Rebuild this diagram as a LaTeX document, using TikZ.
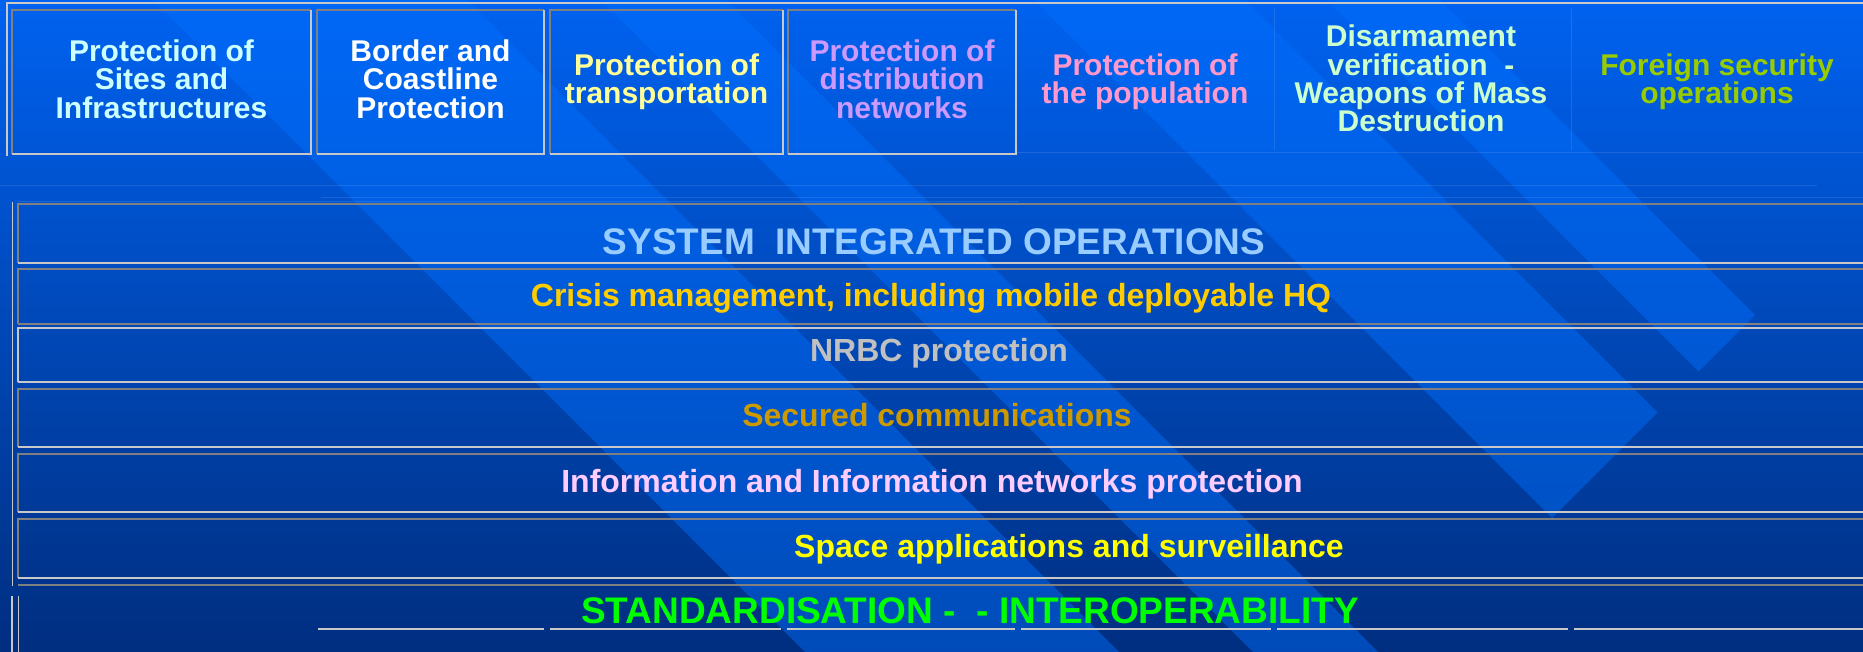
\documentclass[tikz,border=0pt]{standalone}
\usepackage{fontspec}
\setmainfont{Liberation Sans}

% background and frame colours
\definecolor{bgtop}{RGB}{0,98,240}
\definecolor{bgmid}{RGB}{0,78,200}
\definecolor{bgbot}{RGB}{0,46,128}
\definecolor{stripeblue}{RGB}{0,112,255}
\definecolor{edgedark}{RGB}{128,128,128}
\definecolor{edgelight}{RGB}{200,200,200}
% text colours
\definecolor{sitescol}{RGB}{204,255,255}
\definecolor{transcol}{RGB}{255,255,153}
\definecolor{distcol}{RGB}{204,153,255}
\definecolor{popcol}{RGB}{255,153,204}
\definecolor{wmdcol}{RGB}{204,255,204}
\definecolor{foreigncol}{RGB}{153,204,0}
\definecolor{syscol}{RGB}{153,204,255}
\definecolor{crisiscol}{RGB}{255,204,0}
\definecolor{nrbccol}{RGB}{192,192,192}
\definecolor{seccol}{RGB}{204,153,0}
\definecolor{infocol}{RGB}{255,204,255}
\definecolor{spacecol}{RGB}{255,255,0}
\definecolor{stdcol}{RGB}{0,255,0}

\tikzset{
    boxtext/.style={anchor=base, align=center, inner sep=0pt,
        font=\bfseries\fontsize{30}{28.3}\selectfont},
    bandtext/.style={anchor=base, inner sep=0pt,
        font=\bfseries\fontsize{32}{36}\selectfont},
    bigtext/.style={anchor=base, inner sep=0pt,
        font=\bfseries\fontsize{37}{42}\selectfont},
    faint/.style={white, opacity=0.1, line width=1pt}
}

% sunken frame: dark top and left, light bottom and right
\newcommand{\insetbox}[4]{
    \draw[edgedark, line width=2pt] (#1,#4) -- (#1,#2) -- (#3,#2);
    \draw[edgelight, line width=2pt] (#3,#2) -- (#3,#4) -- (#1,#4);
}

\begin{document}
\begin{tikzpicture}[x=1pt,y=-1pt]
            \useasboundingbox (0,0) rectangle (1863,652);
            \shade[top color=bgtop, middle color=bgmid, bottom color=bgbot] (0,0) rectangle (1863,652);
            \begin{scope}
                \clip (0,0) rectangle (1863,652);
                \foreach \a/\b in {153/467, 601/726, 1034/1245, 1327/1440} {
                    \fill[stripeblue, fill opacity=0.45] (\a-30,-30) -- (\b-30,-30)
                        -- ({(2070+\b)/2},{(2070-\b)/2}) -- ({(2070+\a)/2},{(2070-\a)/2}) -- cycle;
                }
            \end{scope}

            % top row
            \draw[edgelight, line width=1.5pt] (7,156) -- (7,3) -- (1863,3);
            \foreach \l/\r in {12/311, 317/544, 550/783, 788/1016} {
                \insetbox{\l}{10}{\r}{154}
            }
            \draw[faint] (1274,8) -- (1274,150);
            \draw[faint] (1571,8) -- (1571,150);
            \draw[faint] (1016,153) -- (1863,153);
            \draw[faint] (0,186) -- (1817,186);
            \draw[faint] (321,198) -- (1863,198);
            \draw[faint] (18,201.5) -- (1019,201.5);

            % base anchor sits on the last line
            \node[boxtext, sitescol] (sites) at (161.5,118.3) {Protection of\\Sites and\\Infrastructures};
            \node[boxtext, white] (border) at (430.5,118.3) {Border and\\Coastline\\Protection};
            \node[boxtext, transcol] (transport) at (666.5,104) {Protection of\\transportation};
            \node[boxtext, distcol] (distrib) at (902,118.3) {Protection of\\distribution\\networks};
            \node[boxtext, popcol] (popul) at (1145,104) {Protection of\\the population};
            \node[boxtext, wmdcol] (disarm) at (1421,131.7) {Disarmament\\verification~~-\\Weapons of Mass\\Destruction};
            \node[boxtext, foreigncol] (foreign) at (1717,104) {Foreign security\\operations};

            % horizontal bands
            \draw[edgelight, line width=1.5pt] (12.5,202) -- (12.5,586);
            \foreach \t/\b/\tc/\bc in {204.5/263/edgedark/edgelight, 269.5/324/edgedark/edgedark,
                    327.7/382.3/edgelight/edgelight, 389.3/446.7/edgedark/edgelight,
                    454.3/512.3/edgedark/edgelight, 519.3/577.7/edgedark/edgelight} {
                \draw[\tc, line width=2pt] (18,\b) -- (18,\t) -- (1866,\t);
                \draw[\bc, line width=2pt] (18,\b) -- (1866,\b);
            }
            \draw[edgedark, line width=2pt] (18,584.5) -- (1866,584.5);
            \draw[edgelight, line width=1.5pt] (12,596) -- (12,652);
            \draw[edgelight, line width=1.5pt] (18.5,596) -- (18.5,652);
            \foreach \l/\r in {318/544, 550/781, 787/1015, 1021/1271, 1277/1568, 1574/1866} {
                \draw[edgelight, line width=2pt] (\l,628.7) -- (\r,628.7);
            }

            \node[bigtext, syscol] (sysops) at (934,255) {SYSTEM~~INTEGRATED OPERATIONS};
            \node[bandtext, crisiscol] (crisis) at (931,307) {Crisis management, including mobile deployable HQ};
            \node[bandtext, nrbccol] (nrbc) at (939,361.7) {NRBC protection};
            \node[bandtext, seccol] (secured) at (937,426.7) {Secured communications};
            \node[bandtext, infocol] (infonet) at (932,492.7) {Information and Information networks protection};
            \node[bandtext, spacecol] (space) at (1069,557.3) {Space applications and surveillance};
            \node[bigtext, stdcol] (std) at (970,623.3) {STANDARDISATION -~~- INTEROPERABILITY};
        \end{tikzpicture}
\end{document}
